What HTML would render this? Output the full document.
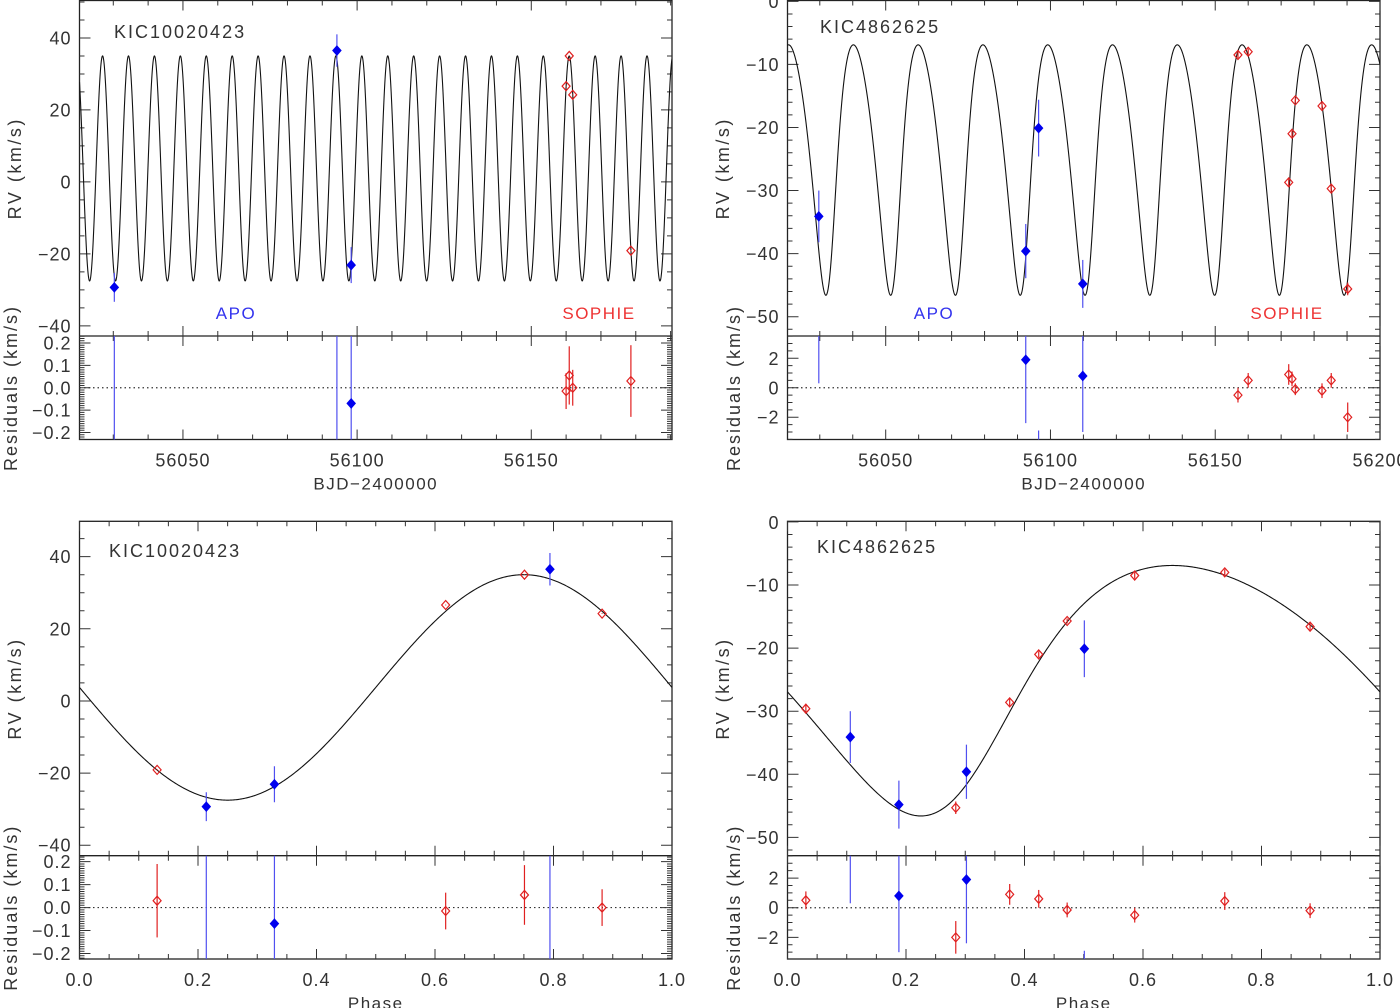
<!DOCTYPE html>
<html><head><meta charset="utf-8">
<style>
html,body{margin:0;padding:0;background:#fff;width:1400px;height:1008px;overflow:hidden;}
svg{display:block;font-family:"Liberation Sans",sans-serif;}
</style></head>
<body>
<svg id="fig" width="1400" height="1008" viewBox="0 0 1400 1008" xmlns="http://www.w3.org/2000/svg"></svg>
<script>
// ---------- data: KIC10020423 (time domain) ----------
const tlApoT   = [56030.3, 56094.2, 56098.3];
const tlApoRV  = [-29.3, 36.5, -23.1];
const tlApoErr = [4.0, 4.5, 5.0];
const tlApoRes = [0.5, -0.3, -0.07];
const tlApoResErr = [4.0, 4.5, 5.0];
const tlSopT   = [56160.0, 56160.9, 56161.9, 56178.6];
const tlSopRV  = [26.6, 35.0, 24.2, -19.1];
const tlSopErr = [0.1, 0.1, 0.1, 0.15];
const tlSopRes = [-0.015, 0.055, 0.0, 0.03];
const tlSopResErr = [0.08, 0.13, 0.08, 0.16];
// ---------- data: KIC4862625 (time domain) ----------
const trApoT   = [56029.7, 56092.5, 56096.4, 56109.8];
const trApoRV  = [-34.1, -39.6, -20.1, -44.8];
const trApoErr = [4.1, 4.3, 4.5, 3.8];
const trApoRes = [4.4, 1.9, -7.4, 0.8];
const trApoResErr = [4.1, 4.3, 4.5, 3.8];
const trSopT   = [56156.9, 56160.0, 56172.3, 56173.3, 56174.3, 56182.4, 56185.2, 56190.2];
const trSopRV  = [-8.5, -8.0, -28.7, -21.0, -15.7, -16.6, -29.7, -45.6];
const trSopErr = [0.5, 0.5, 0.7, 0.5, 0.4, 0.5, 0.5, 1.0];
const trSopRes = [-0.5, 0.5, 0.9, 0.6, -0.1, -0.2, 0.5, -2.0];
const trSopResErr = [0.5, 0.5, 0.7, 0.5, 0.4, 0.5, 0.5, 1.0];
// ---------- data: KIC10020423 (phase) ----------
const blApoPh  = [0.214, 0.329, 0.794];
const blApoRV  = [-29.3, -23.1, 36.5];
const blApoErr = [4.0, 5.0, 4.5];
const blApoRes = [0.5, -0.07, -0.3];
const blApoResErr = [4.0, 5.0, 4.5];
const blSopPh  = [0.131, 0.618, 0.751, 0.882];
const blSopRV  = [-19.1, 26.6, 35.0, 24.2];
const blSopErr = [0.15, 0.1, 0.1, 0.1];
const blSopRes = [0.03, -0.015, 0.055, 0.0];
const blSopResErr = [0.16, 0.08, 0.13, 0.08];
// ---------- data: KIC4862625 (phase) ----------
const brApoPh  = [0.106, 0.188, 0.302, 0.501];
const brApoRV  = [-34.1, -44.8, -39.6, -20.1];
const brApoErr = [4.1, 3.8, 4.3, 4.5];
const brApoRes = [4.4, 0.8, 1.9, -7.4];
const brApoResErr = [4.1, 3.8, 4.3, 4.5];
const brSopPh  = [0.031, 0.284, 0.375, 0.424, 0.472, 0.586, 0.738, 0.882];
const brSopRV  = [-29.6, -45.3, -28.6, -21.0, -15.7, -8.5, -8.0, -16.6];
const brSopErr = [0.6, 1.0, 0.7, 0.5, 0.4, 0.5, 0.5, 0.5];
const brSopRes = [0.5, -2.0, 0.9, 0.6, -0.15, -0.5, 0.45, -0.2];
const brSopResErr = [0.6, 1.1, 0.7, 0.6, 0.5, 0.5, 0.6, 0.5];
// ---------- orbit model parameters ----------
const orbitA = [7.443, 56021.34, 3.75, 31.25];
const orbitB = [19.66, 56086.4, -23.54, 19.85, 0.2, 216, 0.292];

const NS = "http://www.w3.org/2000/svg";
const svg = document.getElementById('fig');
function mk(tag, parent){ const e=document.createElementNS(NS,tag); parent.appendChild(e); return e; }

function modelA(ph){ return orbitA[2] + orbitA[3]*Math.cos(2*Math.PI*(ph-0.75)); }
function modelB(ph){
  const e=orbitB[4], w=orbitB[5]*Math.PI/180;
  let M = 2*Math.PI*(ph-orbitB[6]);
  M = ((M % (2*Math.PI)) + 3*Math.PI) % (2*Math.PI) - Math.PI;
  let E=M; for(let i=0;i<30;i++){ E = E - (E - e*Math.sin(E) - M)/(1 - e*Math.cos(E)); }
  const nu = 2*Math.atan(Math.sqrt((1+e)/(1-e))*Math.tan(E/2));
  return orbitB[2] + orbitB[3]*(Math.cos(nu+w) + e*Math.cos(w));
}
function phaseOf(t,P,T0){ let p=(t-T0)/P; return p-Math.floor(p); }

let clipId=0;
function text(parent, x, y, s, size, anchor, color, rot, ls){
  const t=mk('text',parent);
  t.setAttribute('x',x); t.setAttribute('y',y);
  t.setAttribute('font-size',size); t.setAttribute('text-anchor',anchor);
  t.setAttribute('fill',color);
  if(ls) t.setAttribute('letter-spacing',ls);
  if(rot) t.setAttribute('transform','rotate(-90 '+x+' '+y+')');
  t.textContent=s;
  return t;
}
function fmtNum(v,dec){ const s=Math.abs(v).toFixed(dec); return (v< -1e-9 ? '\u2212' : '') + s; }

function drawTicks(g, x0,x1,y0,y1, xs, ys, xMin,xMax,xMaj,xMin2, yMin,yMax,yMaj,yMin2){
  let d='';
  const eps=1e-9;
  const startX=Math.ceil(xMin/xMin2-eps)*xMin2;
  for(let v=startX; v<=xMax+eps; v+=xMin2){
    const isMaj = Math.abs(v/xMaj - Math.round(v/xMaj))<1e-6;
    const L=isMaj?10:5; const X=xs(v).toFixed(2);
    d+='M'+X+' '+y1+'V'+(y1-L)+'M'+X+' '+y0+'V'+(y0+L);
  }
  const startY=Math.ceil(yMin/yMin2-eps)*yMin2;
  for(let v=startY; v<=yMax+eps; v+=yMin2){
    const isMaj = Math.abs(v/yMaj - Math.round(v/yMaj))<1e-6;
    const L=isMaj?11:5; const Y=ys(v).toFixed(2);
    d+='M'+x0+' '+Y+'H'+(x0+L)+'M'+x1+' '+Y+'H'+(x1-L);
  }
  const p=mk('path',g); p.setAttribute('d',d); p.setAttribute('stroke','#333'); p.setAttribute('stroke-width','1'); p.setAttribute('fill','none');
  return p;
}

function diamond(g,x,y,filled,color){
  const p=mk('path',g);
  p.setAttribute('d','M'+x+' '+(y-4.5)+'L'+(x+4)+' '+y+'L'+x+' '+(y+4.5)+'L'+(x-4)+' '+y+'Z');
  p.setAttribute('fill',filled?color:'none'); p.setAttribute('stroke',color); p.setAttribute('stroke-width','1.2');
  return p;
}

function drawPanel(p){
  const g=mk('g',svg);
  
  
  const xs=v=>p.x0+(v-p.xMin)/(p.xMax-p.xMin)*(p.x1-p.x0);
  const ys=v=>p.yTop+(p.vMax-v)/(p.vMax-p.vMin)*(p.yMid-p.yTop);
  const rs=v=>p.yMid+(p.rMax-v)/(p.rMax-p.rMin)*(p.yBot-p.yMid);
  const defs=mk('defs',g);
  const c1=mk('clipPath',defs); const id1='c'+(clipId++); c1.setAttribute('id',id1);
  const r1=mk('rect',c1); r1.setAttribute('x',p.x0); r1.setAttribute('y',p.yTop); r1.setAttribute('width',p.x1-p.x0); r1.setAttribute('height',p.yMid-p.yTop);
  const c2=mk('clipPath',defs); const id2='c'+(clipId++); c2.setAttribute('id',id2);
  const r2=mk('rect',c2); r2.setAttribute('x',p.x0); r2.setAttribute('y',p.yMid); r2.setAttribute('width',p.x1-p.x0); r2.setAttribute('height',p.yBot-p.yMid);
  const box=mk('rect',g);
  
  
  box.setAttribute('x',p.x0); box.setAttribute('y',p.yTop); box.setAttribute('width',p.x1-p.x0); box.setAttribute('height',p.yBot-p.yTop);
  box.setAttribute('fill','none'); box.setAttribute('stroke','#222'); box.setAttribute('stroke-width','1.3');
  const sep=mk('line',g);
  
  
  sep.setAttribute('x1',p.x0); sep.setAttribute('x2',p.x1); sep.setAttribute('y1',p.yMid); sep.setAttribute('y2',p.yMid);
  sep.setAttribute('stroke','#222'); sep.setAttribute('stroke-width','1.3');
  const t1=drawTicks(g,p.x0,p.x1,p.yTop,p.yMid,xs,ys,p.xMin,p.xMax,p.xMaj,p.xMinor,p.vMin,p.vMax,p.vMaj,p.vMinor);
  
  
  const t2=drawTicks(g,p.x0,p.x1,p.yMid,p.yBot,xs,rs,p.xMin,p.xMax,p.xMaj,p.xMinor,p.rMin,p.rMax,p.rMaj,p.rMinor);
  
  
  const eps=1e-9;
  for(let v=Math.ceil(p.vMin/p.vMaj-eps)*p.vMaj; v<=p.vMax+eps; v+=p.vMaj){
    const y=Math.max(ys(v), p.yTop+1);
    const t=text(g,p.x0-8,y+6.5,fmtNum(v,0),18,'end','#333',false,1);
    
    
  }
  for(let v=Math.ceil(p.rMin/p.rMaj-eps)*p.rMaj; v<=p.rMax+eps; v+=p.rMaj){
    const t=text(g,p.x0-8,rs(v)+6.5,fmtNum(v,p.rDec),18,'end','#333',false,1);
    
    
  }
  for(let v=Math.ceil(p.xMin/p.xMaj-eps)*p.xMaj; v<=p.xMax+eps; v+=p.xMaj){
    const t=text(g,xs(v),p.yBot+27,fmtNum(v,p.xDec),18,'middle','#333',false,1);
    
    
  }
  const xt=text(g,(p.x0+p.x1)/2,p.yBot+50,p.xTitle,17,'middle','#333',false,1.5);
  
  
  const yt=text(g,p.rvTitleX,(p.yTop+p.yMid)/2,'RV  (km/s)',18,'middle','#333',true,2.5);
  
  
  const rt=text(g,p.resTitleX,p.yMid+52,'Residuals  (km/s)',18,'middle','#333',true,2);
  
  
  const st=text(g,p.titleX,p.titleY,p.title,18,'start','#333',false,2);
  
  
  if(p.inst){
    const a=text(g,p.apoX,p.yMid-17,'APO',17,'middle','#3333ee',false,1.5);
    
    
    const s=text(g,p.sopX,p.yMid-17,'SOPHIE',17,'middle','#ee3333',false,1.5);
    
    
  }
  const gm=mk('g',g); gm.setAttribute('clip-path','url(#'+id1+')');
  let d=''; const N=p.samples;
  for(let i=0;i<=N;i++){
    const xv=p.xMin+(p.xMax-p.xMin)*i/N;
    d+=(i?'L':'M')+xs(xv).toFixed(2)+' '+ys(p.model(xv)).toFixed(2);
  }
  const cv=mk('path',gm);
  
  
  cv.setAttribute('d',d); cv.setAttribute('fill','none'); cv.setAttribute('stroke','#111'); cv.setAttribute('stroke-width','1.1');
  const zl=mk('line',g);
  
  
  zl.setAttribute('x1',p.x0); zl.setAttribute('x2',p.x1); zl.setAttribute('y1',rs(0)); zl.setAttribute('y2',rs(0));
  zl.setAttribute('stroke','#333'); zl.setAttribute('stroke-dasharray','1.5 3'); zl.setAttribute('stroke-width','1.2');
  const gr=mk('g',g); gr.setAttribute('clip-path','url(#'+id2+')');
  const series=[p.apo,p.sop];
  series.forEach((s,k)=>{
    const filled = k===0;
    const col = filled ? '#0000ee' : '#e02020';
    const ecol = filled ? '#5050f0' : '#e02020';
    for(let i=0;i<s.x.length;i++){
      const X=xs(s.x[i]);
      const eb=mk('line',gm);
      
      
      eb.setAttribute('x1',X); eb.setAttribute('x2',X);
      eb.setAttribute('y1',ys(s.v[i]-s.e[i])); eb.setAttribute('y2',ys(s.v[i]+s.e[i]));
      eb.setAttribute('stroke',ecol); eb.setAttribute('stroke-width','1.2');
      const m=diamond(gm,X,ys(s.v[i]),filled,col);
      
      
      const rb=mk('line',gr);
      
      
      rb.setAttribute('x1',X); rb.setAttribute('x2',X);
      rb.setAttribute('y1',rs(s.r[i]-s.re[i])); rb.setAttribute('y2',rs(s.r[i]+s.re[i]));
      rb.setAttribute('stroke',ecol); rb.setAttribute('stroke-width','1.2');
      const rm=diamond(gr,X,rs(s.r[i]),filled,col);
      
      
    }
  });
}

drawPanel({name:'kic10020423-time-panel', x0:79.5,x1:672,yTop:0.5,yMid:336,yBot:439.5,
  xMin:56020.3,xMax:56190.4,xMaj:50,xMinor:10,xDec:0,
  vMin:-42.8,vMax:50.4,vMaj:20,vMinor:5,
  rMin:-0.231,rMax:0.231,rMaj:0.1,rMinor:0.01,rDec:1,
  model:t=>modelA(phaseOf(t,orbitA[0],orbitA[1])), samples:3000,
  xTitle:'BJD\u22122400000', rvTitleX:21, resTitleX:17, title:'KIC10020423', titleX:114, titleY:38,
  inst:true, apoX:236, sopX:599,
  apo:{x:tlApoT,v:tlApoRV,e:tlApoErr,r:tlApoRes,re:tlApoResErr},
  sop:{x:tlSopT,v:tlSopRV,e:tlSopErr,r:tlSopRes,re:tlSopResErr}});

drawPanel({name:'kic4862625-time-panel', x0:787.5,x1:1380,yTop:0.5,yMid:336,yBot:439.5,
  xMin:56020.2,xMax:56200,xMaj:50,xMinor:10,xDec:0,
  vMin:-53.06,vMax:0.13,vMaj:10,vMinor:2,
  rMin:-3.51,rMax:3.51,rMaj:2,rMinor:0.5,rDec:0,
  model:t=>modelB(phaseOf(t,orbitB[0],orbitB[1])), samples:3000,
  xTitle:'BJD\u22122400000', rvTitleX:729, resTitleX:740, title:'KIC4862625', titleX:820, titleY:33,
  inst:true, apoX:934, sopX:1287,
  apo:{x:trApoT,v:trApoRV,e:trApoErr,r:trApoRes,re:trApoResErr},
  sop:{x:trSopT,v:trSopRV,e:trSopErr,r:trSopRes,re:trSopResErr}});

drawPanel({name:'kic10020423-phase-panel', x0:79.5,x1:672,yTop:521.3,yMid:855.7,yBot:959,
  xMin:0,xMax:1,xMaj:0.2,xMinor:0.05,xDec:1,
  vMin:-42.9,vMax:49.8,vMaj:20,vMinor:5,
  rMin:-0.224,rMax:0.226,rMaj:0.1,rMinor:0.01,rDec:1,
  model:modelA, samples:600,
  xTitle:'Phase', rvTitleX:21, resTitleX:17, title:'KIC10020423', titleX:109, titleY:557,
  inst:false,
  apo:{x:blApoPh,v:blApoRV,e:blApoErr,r:blApoRes,re:blApoResErr},
  sop:{x:blSopPh,v:blSopRV,e:blSopErr,r:blSopRes,re:blSopResErr}});

drawPanel({name:'kic4862625-phase-panel', x0:787.5,x1:1380,yTop:521.3,yMid:855.7,yBot:959,
  xMin:0,xMax:1,xMaj:0.2,xMinor:0.05,xDec:1,
  vMin:-52.9,vMax:0.1,vMaj:10,vMinor:2,
  rMin:-3.46,rMax:3.51,rMaj:2,rMinor:0.5,rDec:0,
  model:modelB, samples:600,
  xTitle:'Phase', rvTitleX:729, resTitleX:740, title:'KIC4862625', titleX:817, titleY:553,
  inst:false,
  apo:{x:brApoPh,v:brApoRV,e:brApoErr,r:brApoRes,re:brApoResErr},
  sop:{x:brSopPh,v:brSopRV,e:brSopErr,r:brSopRes,re:brSopResErr}});
</script>
</body></html>
